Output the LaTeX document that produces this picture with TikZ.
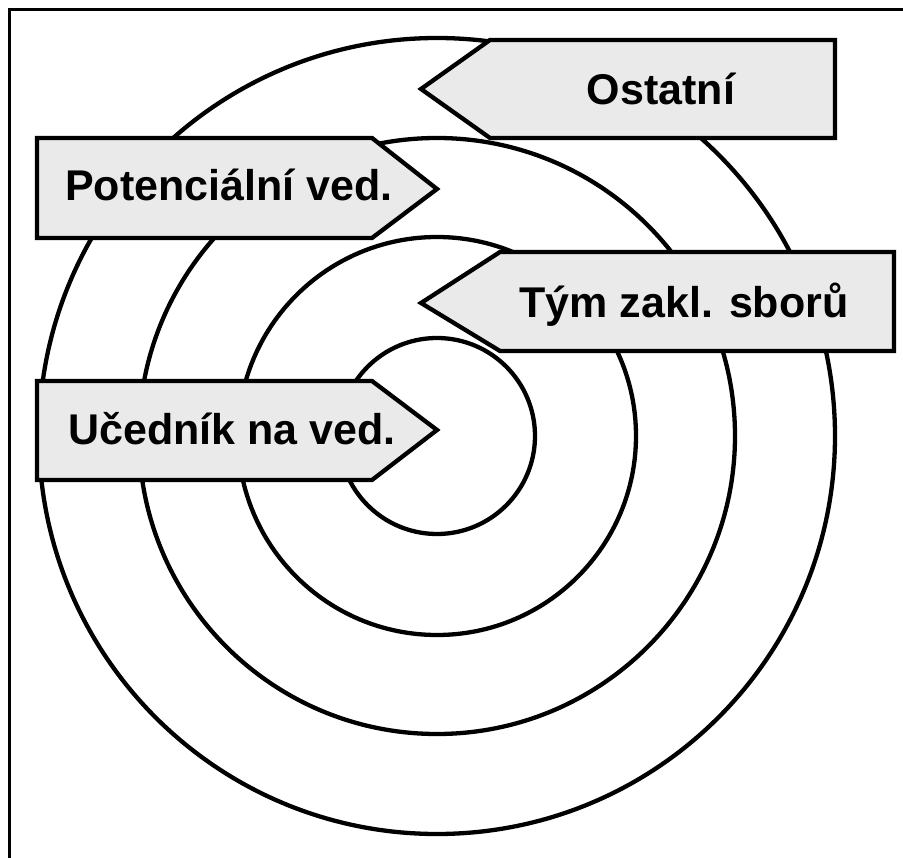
\documentclass[tikz,border=0pt]{standalone}
\usepackage{fontspec}
\setmainfont{Liberation Sans}
\definecolor{boxgray}{RGB}{234,234,234}
\tikzset{
  ring/.style={draw=black, line width=4.3pt},
  tagbox/.style={draw=black, fill=boxgray, line width=4.3pt, line join=miter},
  lbl/.style={anchor=base, inner sep=0pt, font=\fontsize{43}{50}\selectfont\bfseries},
  frame/.style={draw=black, line width=3pt}
}
\begin{document}
\begin{tikzpicture}[x=1pt, y=-1pt]
\clip (0,0) rectangle (903,858);
\fill[white] (0,0) rectangle (903,858);
\draw[frame] (9,10) rectangle (930,890);
\coordinate (c) at (437,436);
\draw[ring] (c) circle [radius=398pt];
\draw[ring] (c) circle [radius=298pt];
\draw[ring] (c) circle [radius=199pt];
\draw[ring] (c) circle [radius=98pt];
% Ostatni
\path[tagbox] (490,40) -- (835,40) -- (835,138) -- (490,138) -- (421,89) -- cycle;
\node[lbl] (ostatni) at (661,105) {Ostatní};
% Potencialni ved.
\path[tagbox] (37,138) -- (372,138) -- (437,189) -- (372,238) -- (37,238) -- cycle;
\node[lbl] (potencialni) at (229,201) {Potenciální ved.};
% Tym zakl. sboru
\path[tagbox] (500,252) -- (894,252) -- (894,351) -- (500,351) -- (421,303) -- cycle;
\node[lbl] (tym) at (684,318) {Tým zakl. sborů};
% Ucednik na ved.
\path[tagbox] (37,381) -- (372,381) -- (437,430) -- (372,480) -- (37,480) -- cycle;
\node[lbl] (ucednik) at (232,445) {Učedník na ved.};
\end{tikzpicture}
\end{document}
